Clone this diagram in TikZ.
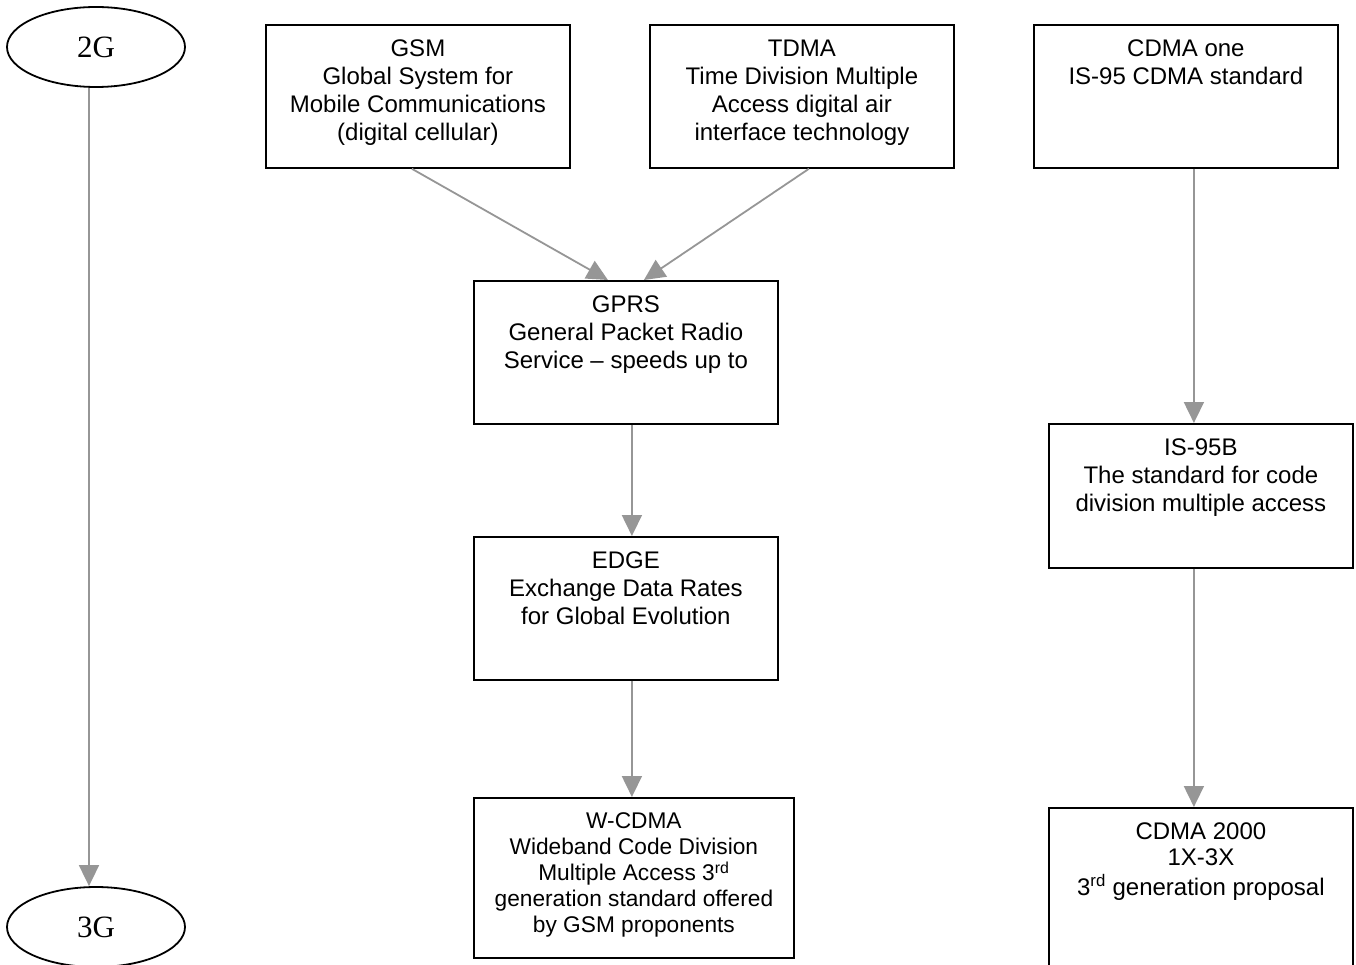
\documentclass[tikz,border=0pt]{standalone}
\usepackage{fontspec}
\setmainfont{Liberation Serif}
\newfontfamily\arial{Liberation Sans}
\usepackage{tikz}
\usetikzlibrary{shapes.geometric}
\usetikzlibrary{arrows.meta}
\usepackage{xcolor}
\definecolor{linkgray}{RGB}{150,150,150}
% text of a box, set from its top edge
\newcommand{\boxlines}[3]{\parbox[t][#1][t]{#2}{\centering\vspace*{15pt}#3}}

\begin{document}
\begin{tikzpicture}[x=1pt,y=-1pt,
  gen/.style={ellipse,draw,line width=1.8pt,minimum width=178pt,minimum height=80pt,inner sep=0pt,font=\fontsize{31}{36}\selectfont},
  unit/.style={rectangle,draw,line width=1.8pt,anchor=north west,inner sep=0pt,font=\arial\fontsize{24}{28}\selectfont},
  link/.style={draw=linkgray,line width=1.8pt,-{Triangle[length=21pt,width=20pt]},fill=linkgray}]
\useasboundingbox (0,0) rectangle (1356,965);

\node [gen,at={(96,47)}] (g2) {2G};
\node [gen,at={(96,927)}] (g3) {3G};

\node [unit,at={(265,24)}] (gsm) {\boxlines{143pt}{304pt}{GSM\\Global System for\\Mobile Communications\\(digital cellular)}};
\node [unit,at={(649,24)}] (tdma) {\boxlines{143pt}{304pt}{TDMA\\Time Division Multiple\\Access digital air\\interface technology}};
\node [unit,at={(1033,24)}] (cdmaone) {\boxlines{143pt}{304pt}{CDMA one\\IS-95 CDMA standard}};
\node [unit,at={(473,280)}] (gprs) {\boxlines{143pt}{304pt}{GPRS\\General Packet Radio\\Service – speeds up to}};
\node [unit,at={(473,536)}] (edge) {\boxlines{143pt}{304pt}{EDGE\\Exchange Data Rates\\for Global Evolution}};
\node [unit,at={(473,797)},font=\arial\fontsize{22.7}{26}\selectfont] (wcdma) {\boxlines{160pt}{320pt}{W-CDMA\\Wideband Code Division\\Multiple Access 3\textsuperscript{rd}\\generation standard offered\\by GSM proponents}};
\node [unit,at={(1048,423)}] (is95b) {\boxlines{144pt}{304pt}{IS-95B\\The standard for code\\division multiple access}};
\node [unit,at={(1048,807)},font=\arial\fontsize{24}{26}\selectfont] (cdma2k) {\boxlines{170pt}{304pt}{CDMA 2000\\1X-3X\\[4pt]3\textsuperscript{rd} generation proposal}};

\draw [link] ([xshift=-7pt]g2.south) -- ([xshift=-7pt]g3.north);
\draw [link] ([xshift=-6pt]gsm.south) -- ([xshift=-18pt]gprs.north);
\draw [link] ([xshift=7pt]tdma.south) -- ([xshift=18pt]gprs.north);
\draw [link] ([xshift=6pt]gprs.south) -- ([xshift=6pt]edge.north);
\draw [link] ([xshift=6pt]edge.south) -- ([xshift=-2pt]wcdma.north);
\draw [link] ([xshift=8pt]cdmaone.south) -- ([xshift=-7pt]is95b.north);
\draw [link] ([xshift=-7pt]is95b.south) -- ([xshift=-7pt]cdma2k.north);
\end{tikzpicture}
\end{document}
